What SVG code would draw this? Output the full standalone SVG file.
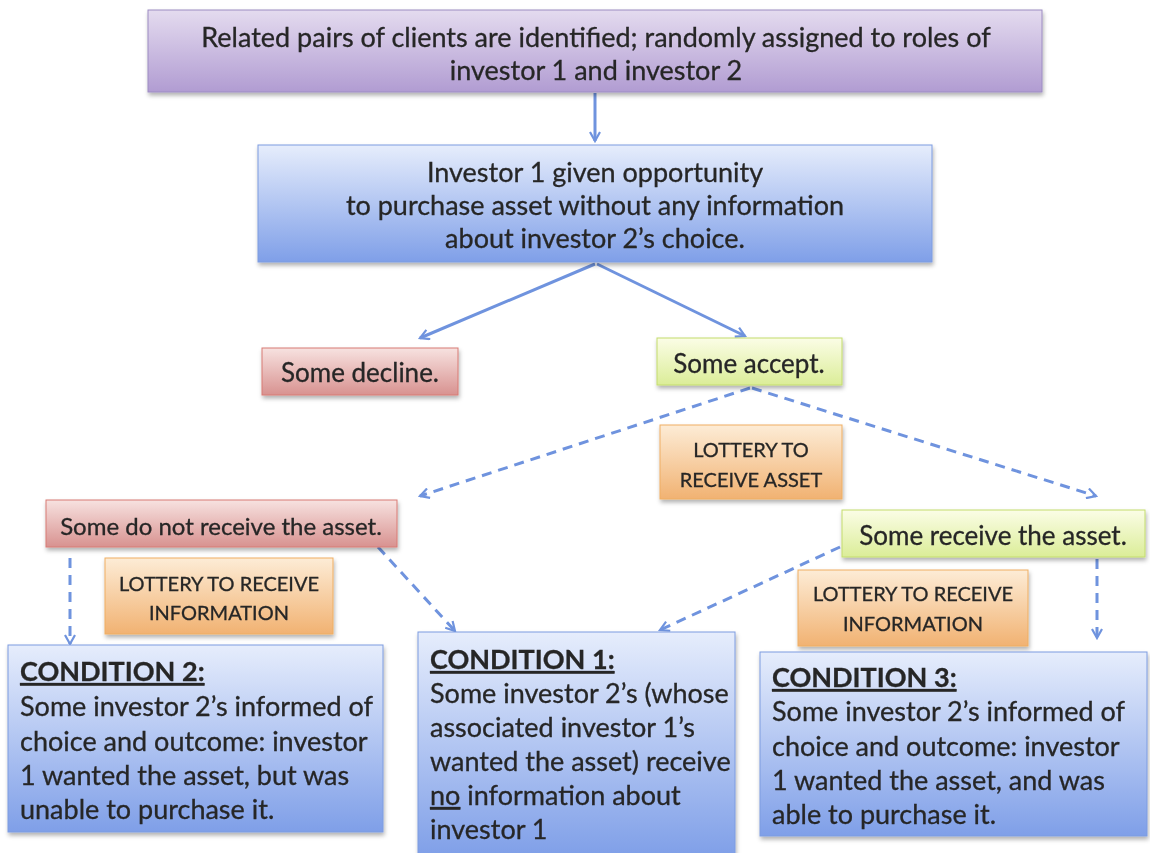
<svg xmlns="http://www.w3.org/2000/svg" width="1150" height="853" viewBox="0 0 1150 853">
<defs>
<linearGradient id="gPurple" x1="0" y1="0" x2="0" y2="1"><stop offset="0" stop-color="#e4dbef"/><stop offset="1" stop-color="#b19cd2"/></linearGradient>
<linearGradient id="gBlue" x1="0" y1="0" x2="0" y2="1"><stop offset="0" stop-color="#e6edfc"/><stop offset="1" stop-color="#7f9fe8"/></linearGradient>
<linearGradient id="gRed" x1="0" y1="0" x2="0" y2="1"><stop offset="0" stop-color="#f7e2e0"/><stop offset="1" stop-color="#d89290"/></linearGradient>
<linearGradient id="gGreen" x1="0" y1="0" x2="0" y2="1"><stop offset="0" stop-color="#fbfde6"/><stop offset="1" stop-color="#dbed98"/></linearGradient>
<linearGradient id="gOrange" x1="0" y1="0" x2="0" y2="1"><stop offset="0" stop-color="#fdecd6"/><stop offset="1" stop-color="#f1b272"/></linearGradient>
<filter id="sh" x="-5%" y="-10%" width="110%" height="130%"><feDropShadow dx="1" dy="3" stdDeviation="2" flood-color="#000" flood-opacity="0.3"/></filter>
<marker id="ah" viewBox="0 0 12 12" refX="10" refY="6" markerWidth="12" markerHeight="12" markerUnits="userSpaceOnUse" orient="auto"><path d="M1,1 L10,6 L1,11" fill="none" stroke="#6f93de" stroke-width="2.2"/></marker>
</defs>
<style>
text{font-family:Lato,"Noto Sans","Liberation Sans",sans-serif;fill:#262626;stroke:#262626;stroke-width:0.3;font-size:27px}
.c{text-anchor:middle}
.s{font-size:20px}
.m{font-size:26px}
.b{font-weight:bold;text-decoration:underline}
.purple{fill:url(#gPurple);stroke:#9c8cc2;stroke-width:1}
.blue{fill:url(#gBlue);stroke:#7d9ce0;stroke-width:1}
.red{fill:url(#gRed);stroke:#d87a74;stroke-width:1}
.green{fill:url(#gGreen);stroke:#c3dc6c;stroke-width:1}
.orange{fill:url(#gOrange);stroke:#efae62;stroke-width:1}
.box{filter:url(#sh)}
.conn{fill:none;stroke:#6f93de;stroke-width:3;marker-end:url(#ah)}
.dash{stroke-dasharray:10 7}
</style>
<rect width="1150" height="853" fill="#fff"/>
<g id="connectors">
<path class="conn" d="M595,93 L595,141"/>
<path class="conn" d="M595,264 L420,338"/>
<path class="conn" d="M597,264 L745,336"/>
<path class="conn dash" d="M750,388 L420,496"/>
<path class="conn dash" d="M752,388 L1096,496"/>
<path class="conn dash" d="M70,558 L70,644"/>
<path class="conn dash" d="M378,547 L455,631"/>
<path class="conn dash" d="M840,547 L660,630"/>
<path class="conn dash" d="M1097,559 L1097,638"/>
</g>
<g id="n-top" class="box"><rect class="purple" x="148" y="10" width="894" height="82"/>
<text class="c" x="596" y="47">Related pairs of clients are identified; randomly assigned to roles of</text>
<text class="c" x="596" y="80">investor 1 and investor 2</text></g>
<g id="n-investor1" class="box"><rect class="blue" x="258" y="145" width="674" height="117"/>
<text class="c" x="595" y="182">Investor 1 given opportunity</text>
<text class="c" x="595" y="215">to purchase asset without any information</text>
<text class="c" x="595" y="248">about investor 2’s choice.</text></g>
<g id="n-decline" class="box"><rect class="red" x="262" y="348" width="196" height="47"/>
<text class="c m" x="360" y="382">Some decline.</text></g>
<g id="n-accept" class="box"><rect class="green" x="657" y="338" width="185" height="47"/>
<text class="c m" x="749" y="373">Some accept.</text></g>
<g id="n-lottery-asset" class="box"><rect class="orange" x="660" y="425" width="182" height="74"/>
<text class="c s" x="751" y="457">LOTTERY TO</text>
<text class="c s" x="751" y="487">RECEIVE ASSET</text></g>
<g id="n-notreceive" class="box"><rect class="red" x="46" y="500" width="351" height="47"/>
<text class="c" x="221" y="535" style="font-size:24px">Some do not receive the asset.</text></g>
<g id="n-receive" class="box"><rect class="green" x="842" y="510" width="303" height="47"/>
<text class="c m" x="993" y="545">Some receive the asset.</text></g>
<g id="n-lottery-info-l" class="box"><rect class="orange" x="105" y="558" width="228" height="76"/>
<text class="c s" x="219" y="591">LOTTERY TO RECEIVE</text>
<text class="c s" x="219" y="620">INFORMATION</text></g>
<g id="n-lottery-info-r" class="box"><rect class="orange" x="798" y="570" width="230" height="76"/>
<text class="c s" x="913" y="601">LOTTERY TO RECEIVE</text>
<text class="c s" x="913" y="631">INFORMATION</text></g>
<g id="n-cond2" class="box"><rect class="blue" x="8" y="645" width="375" height="187"/>
<text class="b" x="20" y="681">CONDITION 2:</text>
<text x="20" y="716">Some investor 2’s informed of</text>
<text x="20" y="751">choice and outcome: investor</text>
<text x="20" y="785">1 wanted the asset, but was</text>
<text x="20" y="819">unable to purchase it.</text></g>
<g id="n-cond1" class="box"><rect class="blue" x="418" y="632" width="317" height="225"/>
<text class="b" x="430" y="669">CONDITION 1:</text>
<text x="430" y="703">Some investor 2’s (whose</text>
<text x="430" y="737">associated investor 1’s</text>
<text x="430" y="771">wanted the asset) receive</text>
<text x="430" y="805"><tspan text-decoration="underline">no</tspan> information about</text>
<text x="430" y="839">investor 1</text></g>
<g id="n-cond3" class="box"><rect class="blue" x="760" y="652" width="387" height="184"/>
<text class="b" x="772" y="687">CONDITION 3:</text>
<text x="772" y="721">Some investor 2’s informed of</text>
<text x="772" y="756">choice and outcome: investor</text>
<text x="772" y="790">1 wanted the asset, and was</text>
<text x="772" y="824">able to purchase it.</text></g>
</svg>
